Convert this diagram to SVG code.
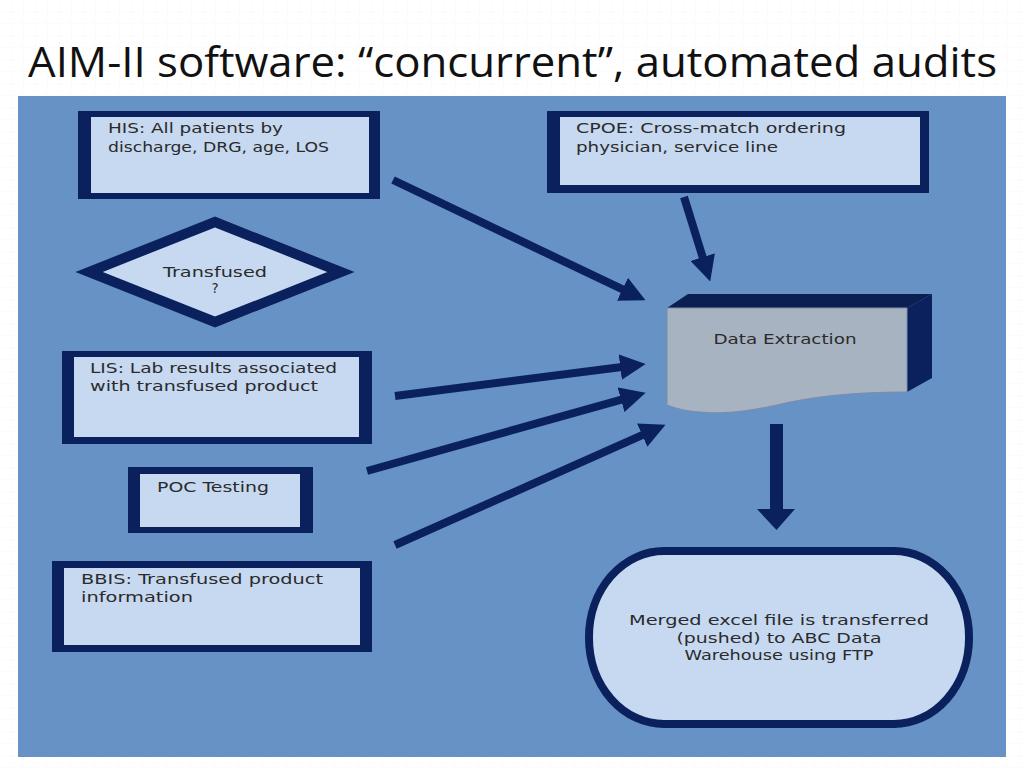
<svg xmlns="http://www.w3.org/2000/svg" width="1024" height="768" viewBox="0 0 1024 768">
  <defs>
    <pattern id="grid" width="12" height="12" patternUnits="userSpaceOnUse">
      <path d="M12,0 V12 M0,12 H12" fill="none" stroke="#ececec" stroke-width="1" stroke-dasharray="1,2"/>
    </pattern>
    <marker id="ah" viewBox="0 0 10 10" refX="6" refY="5" markerWidth="3.2" markerHeight="3.2" orient="auto" markerUnits="strokeWidth">
      <path d="M0,0 L10,5 L0,10 z" fill="#0b215e"/>
    </marker>
    <style>
      .frame { fill: #0b215e; }
      .fill { fill: #c6d9f1; }
      .lbl { font-family: "DejaVu Sans", Verdana, sans-serif; font-size: 13.5px; fill: #2b2b2b; }
      .mid { text-anchor: middle; }
      .conn { stroke: #0b215e; stroke-width: 8; fill: none; marker-end: url(#ah); }
    </style>
  </defs>

  <rect x="0" y="0" width="1024" height="768" fill="#ffffff"/>
  <rect x="0" y="0" width="1024" height="768" fill="url(#grid)"/>
  <text x="28" y="77" font-family="'Open Sans', 'Liberation Sans', sans-serif" font-size="42" fill="#111111" textLength="969" lengthAdjust="spacingAndGlyphs">AIM-II software:  “concurrent”, automated audits</text>

  <rect x="18" y="96" width="988" height="661" fill="#6692c6"/>

  <g id="his">
    <rect class="frame" x="78" y="111" width="302" height="88"/>
    <rect class="fill" x="91" y="117" width="278" height="76"/>
    <text class="lbl" x="108" y="133" textLength="175" lengthAdjust="spacingAndGlyphs">HIS:  All patients by</text>
    <text class="lbl" x="108" y="152" textLength="221" lengthAdjust="spacingAndGlyphs">discharge, DRG, age, LOS</text>
  </g>

  <g id="cpoe">
    <rect class="frame" x="547" y="111" width="382" height="82"/>
    <rect class="fill" x="560" y="117" width="360" height="68"/>
    <text class="lbl" x="576" y="133" textLength="270" lengthAdjust="spacingAndGlyphs">CPOE:  Cross-match ordering</text>
    <text class="lbl" x="576" y="152" textLength="202" lengthAdjust="spacingAndGlyphs">physician, service line</text>
  </g>

  <g id="transfused">
    <polygon points="215,222 341,272 215,322 89,272" fill="#c6d9f1" stroke="#0b215e" stroke-width="10"/>
    <text class="lbl mid" x="215" y="277" textLength="104" lengthAdjust="spacingAndGlyphs">Transfused</text>
    <text class="lbl mid" x="215" y="293">?</text>
  </g>

  <g id="lis">
    <rect class="frame" x="62" y="351" width="310" height="93"/>
    <rect class="fill" x="74" y="357" width="285" height="80"/>
    <text class="lbl" x="90" y="373" textLength="247" lengthAdjust="spacingAndGlyphs">LIS:  Lab results associated</text>
    <text class="lbl" x="90" y="391" textLength="228" lengthAdjust="spacingAndGlyphs">with transfused product</text>
  </g>

  <g id="poc">
    <rect class="frame" x="128" y="467" width="185" height="66"/>
    <rect class="fill" x="140" y="474" width="160" height="53"/>
    <text class="lbl" x="157" y="492" textLength="112" lengthAdjust="spacingAndGlyphs">POC Testing</text>
  </g>

  <g id="bbis">
    <rect class="frame" x="52" y="561" width="320" height="91"/>
    <rect class="fill" x="64" y="568" width="296" height="77"/>
    <text class="lbl" x="81" y="584" textLength="242" lengthAdjust="spacingAndGlyphs">BBIS:  Transfused product</text>
    <text class="lbl" x="81" y="602" textLength="112" lengthAdjust="spacingAndGlyphs">information</text>
  </g>

  <g id="data-extraction">
    <path d="M667,308 L688,294 L932,294 L907,308 Z" fill="#0b1f52"/>
    <path d="M907,308 L932,294 L932,378 L907,392 Z" fill="#0b215e"/>
    <path d="M667,308 H907 V392 C870,392 830,394 790,402 C760,409 730,415 700,412 C685,411 675,408 667,405 Z" fill="#a8b3c1" stroke="#7d8ea6" stroke-width="1"/>
    <text class="lbl mid" x="785" y="344" textLength="143" lengthAdjust="spacingAndGlyphs">Data Extraction</text>
  </g>

  <g id="warehouse">
    <rect x="589" y="551" width="380" height="173" rx="75" ry="86" fill="#c6d9f1" stroke="#0b215e" stroke-width="8"/>
    <text class="lbl mid" x="779" y="625" textLength="300" lengthAdjust="spacingAndGlyphs">Merged excel file is transferred</text>
    <text class="lbl mid" x="779" y="643" textLength="205" lengthAdjust="spacingAndGlyphs">(pushed) to ABC Data</text>
    <text class="lbl mid" x="779" y="660" textLength="189" lengthAdjust="spacingAndGlyphs">Warehouse using FTP</text>
  </g>

  <g id="connectors">
    <path class="conn" d="M393,180 L636.3,295.9"/>
    <path class="conn" d="M684,197 L707.2,271.8"/>
    <path class="conn" d="M395,396 L635.5,365.2"/>
    <path class="conn" d="M367,471 L635.8,395.6"/>
    <path class="conn" d="M395,545 L656.2,428.9"/>
    <polygon points="770,424 783,424 783,509 795,509 776.5,530 757,509 770,509" fill="#0b215e"/>
  </g>
</svg>
